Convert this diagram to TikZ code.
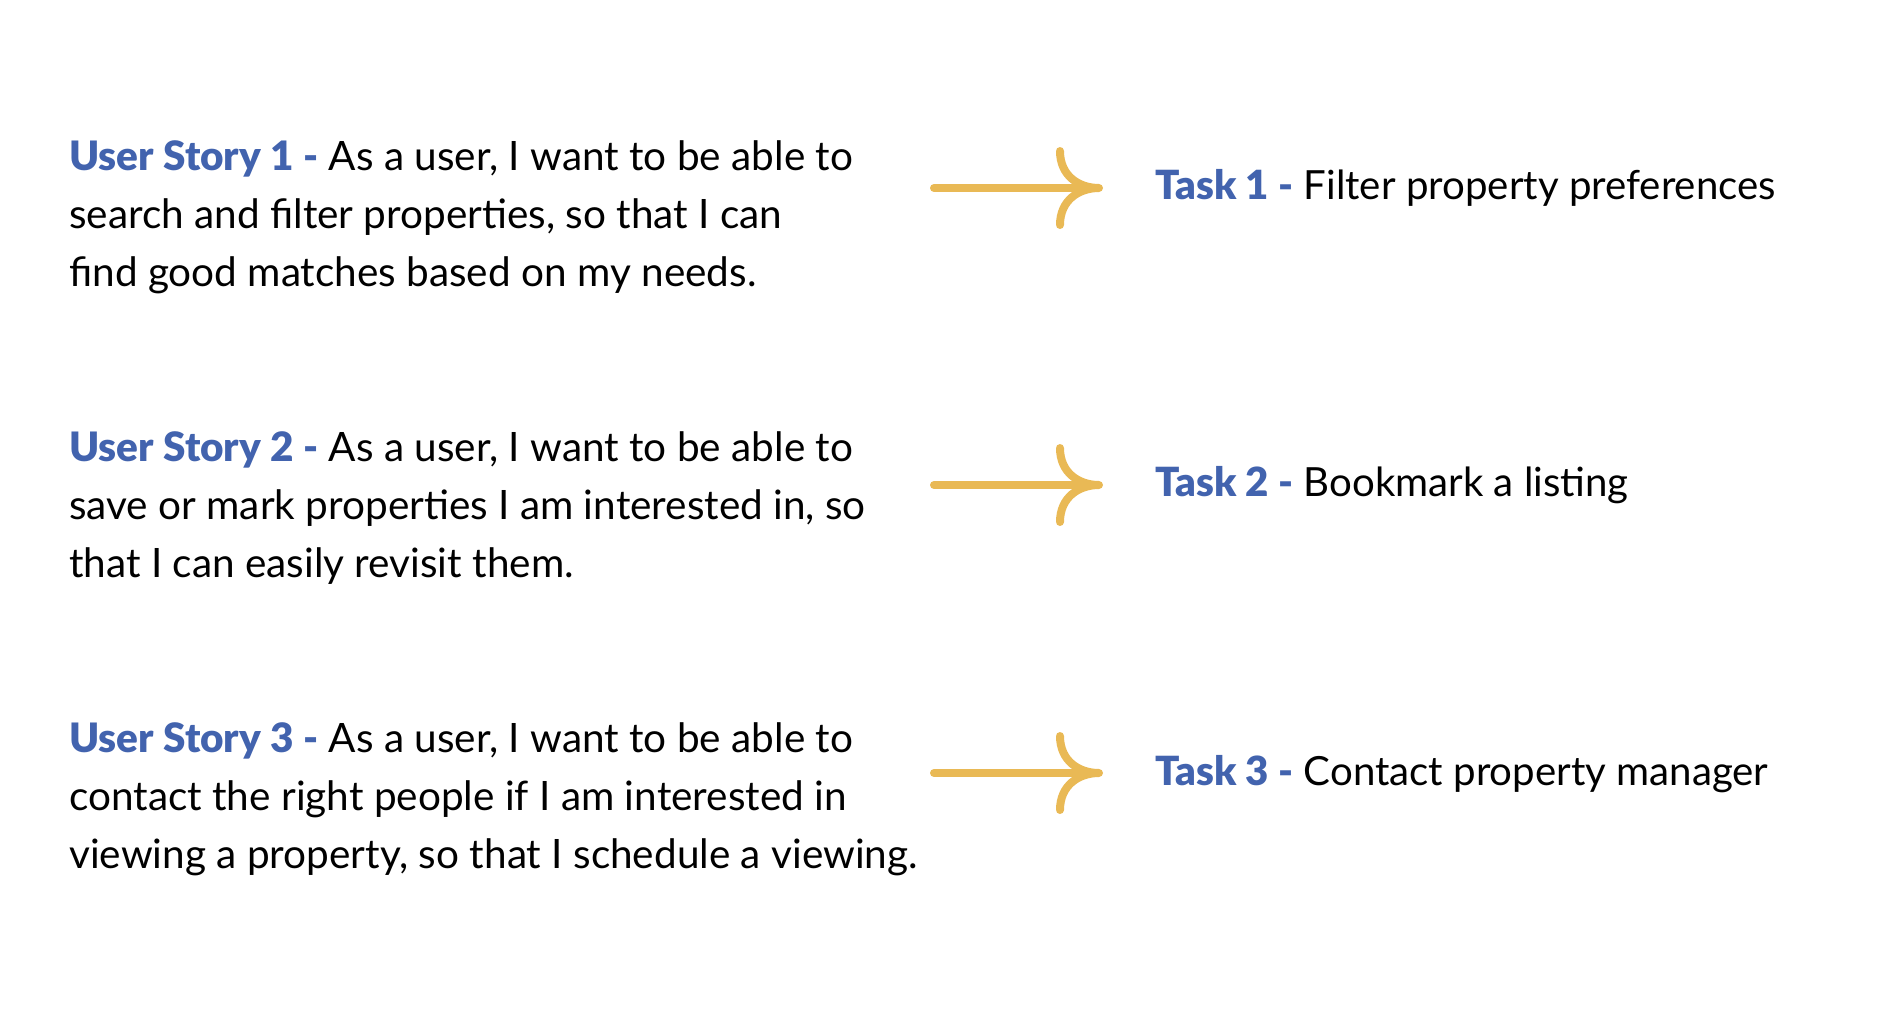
\documentclass[tikz,border=0pt]{standalone}
\usepackage{fontspec}
\setmainfont[BoldFont={Lato Black}]{Lato}
\definecolor{storyblue}{HTML}{4263AE}
\definecolor{arrowgold}{HTML}{E9B955}
\tikzset{
    story/.style={anchor=base west, align=left, inner sep=0pt, font=\fontsize{40.5}{58}\selectfont},
    task/.style={anchor=base west, inner sep=0pt, font=\fontsize{40.2}{58}\selectfont},
    arrowline/.style={draw=arrowgold, line width=8pt, line cap=round}
}
\newcommand{\lbl}[1]{\textcolor{storyblue}{\textbf{#1}}}
\begin{document}
\begin{tikzpicture}[x=1pt, y=-1pt]
        \useasboundingbox (0,0) rectangle (1900,1015);

        % base anchor sits on the last line
        \node[story] (story1) at (69,286) {\lbl{User Story 1 -} As a user, I want to be able to\\search and filter properties, so that I can\\find good matches based on my needs.};
        \node[story] (story2) at (69,577) {\lbl{User Story 2 -} As a user, I want to be able to\\save or mark properties I am interested in, so\\that I can easily revisit them.};
        \node[story] (story3) at (69,868) {\lbl{User Story 3 -} As a user, I want to be able to\\contact the right people if I am interested in\\viewing a property, so that I schedule a viewing.};

        \node[task] (task1) at (1155,199) {\lbl{Task 1 -} Filter property preferences};
        \node[task] (task2) at (1155,496) {\lbl{Task 2 -} Bookmark a listing};
        \node[task] (task3) at (1155,785) {\lbl{Task 3 -} Contact property manager};

        \foreach \i/\y in {1/188,2/485,3/773}
        {
            \coordinate (from\i) at (934,\y);
            \coordinate (to\i) at (1099,\y);
            \draw[arrowline] (from\i) -- (to\i);
            \draw[arrowline] (to\i) ++(-39,-37) .. controls +(0,25) and +(-20,0) .. (to\i)
                .. controls +(-20,0) and +(0,-25) .. ++(-39,37);
        }
    \end{tikzpicture}
\end{document}
